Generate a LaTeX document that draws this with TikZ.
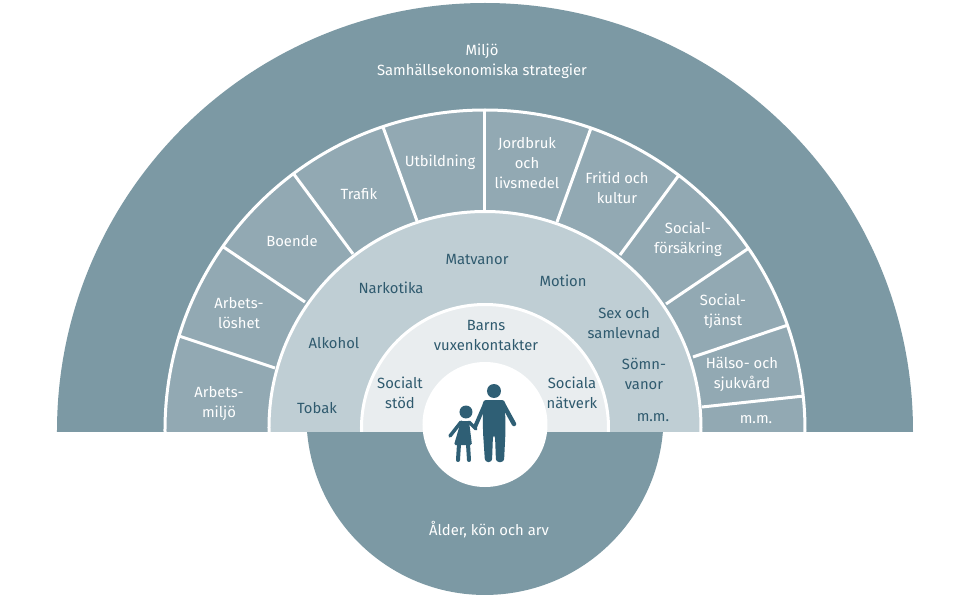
\documentclass[tikz,border=0pt]{standalone}
\usepackage{fontspec}
\setmainfont{Fira Sans}
\definecolor{outerc}{HTML}{7C99A4}
\definecolor{ringb}{HTML}{92A9B3}
\definecolor{ringc}{HTML}{BFCED4}
\definecolor{ringd}{HTML}{E9EDEF}
\definecolor{dark}{HTML}{2F5A6E}
\definecolor{figc}{HTML}{2F5F75}
\tikzset{
  lightlabel/.style={text=white,align=center,font=\fontsize{14.8}{20}\selectfont,inner sep=0pt},
  darklabel/.style={text=dark,align=center,font=\fontsize{14.8}{20}\selectfont,inner sep=0pt},
  spoke/.style={white,line width=3pt},
  ringedge/.style={draw=white,line width=3pt},
  limb/.style={figc,line cap=round,line join=round},
}
\begin{document}
\begin{tikzpicture}[x=1pt,y=1pt]
\useasboundingbox (-485,-169) rectangle (485,431);
\fill[white] (-485,-169) rectangle (485,431);
% bottom half
\fill[outerc] (-178,0) arc[start angle=184.7,end angle=355.3,radius=178.6] -- cycle;
\begin{scope}
\clip (-485,0) rectangle (485,431);
% outer band
\fill[outerc] (0,0) circle[radius=428];
% ring 2
\filldraw[fill=ringb,ringedge] (0,1) circle[radius=320];
% spokes
\draw[spoke] (-102,304) -- (-68,210);
\draw[spoke] (-192,258) -- (-132,177);
\draw[spoke] (-263,185) -- (-180,129);
\draw[spoke] (-306,95) -- (-210,63);
\draw[spoke] (0,321) -- (0,212);
\draw[spoke] (106,303) -- (72,209);
\draw[spoke] (194,256) -- (135,176);
\draw[spoke] (264,183) -- (181,127);
\draw[spoke] (303,106) -- (208,74);
\draw[spoke] (319,35) -- (217,24);
% ring 3
\filldraw[fill=ringc,ringedge] (0,3.5) circle[radius=216];
% ring 4
\filldraw[fill=ringd,ringedge] (0,3) circle[radius=123.5];
\end{scope}
% centre
\fill[white] (0,6.5) circle[radius=62.5];
% figures
\fill[figc] (9,40) circle[radius=7];
\fill[figc,rounded corners=3pt] (-2,31) -- (20,31) -- (20.5,-1) -- (19,-31) -- (11,-31) -- (10,-4) -- (8,-4) -- (7,-31) -- (0,-31) -- (-2,-1) -- cycle;
\draw[limb,line width=4.5pt] (18,27) -- (29,7);
\draw[limb,line width=4pt] (0,27) -- (-10,4);
\fill[figc] (-19,19) circle[radius=6.5];
\fill[figc,rounded corners=1.5pt] (-24,10) -- (-16,10) -- (-13,-14) -- (-31,-14) -- cycle;
\draw[limb,line width=3.5pt] (-24,9) -- (-35,-5);
\draw[limb,line width=3.5pt] (-16,9) -- (-9,2);
\draw[limb,line width=4pt] (-26,-13) -- (-27,-29);
\draw[limb,line width=4pt] (-17,-13) -- (-16,-29);
% labels
\node[lightlabel] (miljo) at (-3,370) {Miljö\\Samhällsekonomiska strategier};
\node[lightlabel] (arbetsmiljo) at (-266,27) {Arbets-\\miljö};
\node[lightlabel] (arbetsloshet) at (-246,118) {Arbets-\\löshet};
\node[lightlabel] (boende) at (-193,190) {Boende};
\node[lightlabel] (trafik) at (-126,237) {Trafik};
\node[lightlabel] (utbildning) at (-45,269) {Utbildning};
\node[lightlabel] (jordbruk) at (42,268) {Jordbruk\\och\\livsmedel};
\node[lightlabel] (fritid) at (132,243) {Fritid och\\kultur};
\node[lightlabel] (social) at (203,192) {Social-\\försäkring};
\node[lightlabel] (tjanst) at (238,120) {Social-\\tjänst};
\node[lightlabel] (halso) at (257,57) {Hälso- och\\sjukvård};
\node[lightlabel] (mm2) at (271,11) {m.m.};
\node[darklabel] (tobak) at (-168,23) {Tobak};
\node[darklabel] (alkohol) at (-151,88) {Alkohol};
\node[darklabel] (narkotika) at (-94,143) {Narkotika};
\node[darklabel] (matvanor) at (-8,172) {Matvanor};
\node[darklabel] (motion) at (78,150) {Motion};
\node[darklabel] (sex) at (139,108) {Sex och\\samlevnad};
\node[darklabel] (somn) at (159,57) {Sömn-\\vanor};
\node[darklabel] (mm) at (168,13) {m.m.};
\node[darklabel] (barns) at (1,96) {Barns\\vuxenkontakter};
\node[darklabel] (stod) at (-85,38) {Socialt\\stöd};
\node[darklabel] (natverk) at (87,38) {Sociala\\nätverk};
\node[lightlabel] (alder) at (4,-99) {Ålder, kön och arv};
\end{tikzpicture}
\end{document}
